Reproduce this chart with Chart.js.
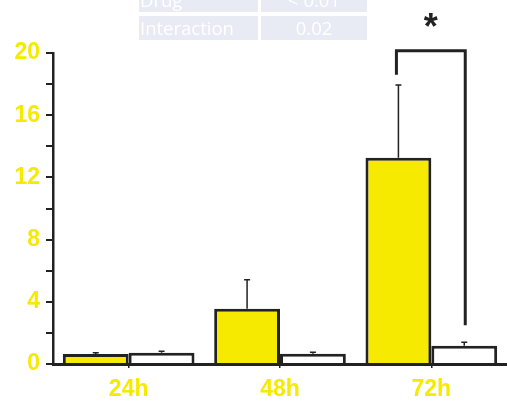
<!DOCTYPE html>
<html>
<head>
<meta charset="utf-8">
<script src="https://cdn.jsdelivr.net/npm/chart.js@4/dist/chart.umd.min.js"></script>
<style>
  html, body { margin: 0; padding: 0; background: #fff; }
  #wrap { position: relative; width: 507px; height: 406px; overflow: hidden; }
  #stats { position: absolute; left: 139px; top: -12px; border-collapse: separate; border-spacing: 3px 4px; margin: -4px -3px; }
  #stats td { background: #e8eaf4; color: #fff; font: 18.5px "Open Sans", sans-serif; height: 24px; padding: 0 1px; line-height: 24px; }
  #stats td.k { width: 117px; text-align: left; }
  #stats td.v { width: 104px; text-align: center; }
</style>
</head>
<body>
<div id="wrap">
  <canvas id="chart" width="507" height="406"></canvas>
  <table id="stats"></table>
</div>
<script>
// ---------------------------------------------------------------------------
// Data
// ---------------------------------------------------------------------------

const timepoints   = ["24h", "48h", "72h"];
const yellowMeans  = [0.64, 3.55, 13.27];
const yellowErrors = [0.08, 1.87, 4.67];
const whiteMeans   = [0.72, 0.66, 1.18];
const whiteErrors  = [0.1, 0.09, 0.22];
const yTicks       = [0, 4, 8, 12, 16, 20];

const statLabels = ["Drug", "Interaction"];
const statValues = ["< 0.01", "0.02"];

// significance bracket on 72h: top level, left leg end, right leg end
const sigIndex = 2;
const sigLevels = [20.15, 18.6, 2.5];

const YELLOW = "#f5ea00";
const INK = "#222222";
const LABEL_FONT = { family: "'Liberation Sans', Arial, sans-serif", size: 23, weight: "bold" };

// ---------------------------------------------------------------------------
// Stats table
// ---------------------------------------------------------------------------

document.getElementById("stats").innerHTML = statLabels
  .map((l, i) => `<tr><td class="k">${l}</td><td class="v">${statValues[i]}</td></tr>`)
  .join("");

// ---------------------------------------------------------------------------
// Plugins
// ---------------------------------------------------------------------------

const errorBars = {
  id: "errorBars",
  afterDatasetsDraw(chart) {
    const { ctx } = chart;
    const yScale = chart.scales.y;
    const errs = [yellowErrors, whiteErrors];
    ctx.save();
    ctx.strokeStyle = INK;
    ctx.lineWidth = 1.5;
    chart.data.datasets.forEach((ds, di) => {
      chart.getDatasetMeta(di).data.forEach((bar, i) => {
        const top = yScale.getPixelForValue(ds.data[i]);
        const end = yScale.getPixelForValue(ds.data[i] + errs[di][i]);
        ctx.beginPath();
        ctx.moveTo(bar.x, top);
        ctx.lineTo(bar.x, end);
        ctx.moveTo(bar.x - 3, end);
        ctx.lineTo(bar.x + 3, end);
        ctx.stroke();
      });
    });
    ctx.restore();
  },
};

const significance = {
  id: "significance",
  afterDatasetsDraw(chart) {
    const { ctx } = chart;
    const yScale = chart.scales.y;
    const x1 = chart.getDatasetMeta(0).data[sigIndex].x - 2;
    const x2 = chart.getDatasetMeta(1).data[sigIndex].x + 1;
    const yTop = yScale.getPixelForValue(sigLevels[0]);
    ctx.save();
    ctx.strokeStyle = INK;
    ctx.lineWidth = 3;
    ctx.beginPath();
    ctx.moveTo(x1, yScale.getPixelForValue(sigLevels[1]));
    ctx.lineTo(x1, yTop);
    ctx.lineTo(x2, yTop);
    ctx.lineTo(x2, yScale.getPixelForValue(sigLevels[2]));
    ctx.stroke();
    ctx.fillStyle = INK;
    ctx.font = "bold 36px 'Liberation Sans', Arial, sans-serif";
    ctx.textAlign = "center";
    ctx.textBaseline = "middle";
    ctx.fillText("*", (x1 + x2) / 2, yTop - 22);
    ctx.restore();
  },
};

// ---------------------------------------------------------------------------
// Chart
// ---------------------------------------------------------------------------

new Chart(document.getElementById("chart").getContext("2d"), {
  type: "bar",
  data: {
    labels: timepoints,
    datasets: [
      {
        data: yellowMeans,
        backgroundColor: YELLOW,
        borderColor: INK,
        borderWidth: 3,
        borderSkipped: "bottom",
      },
      {
        data: whiteMeans,
        backgroundColor: "#ffffff",
        borderColor: INK,
        borderWidth: 3,
        borderSkipped: "bottom",
      },
    ],
  },
  options: {
    responsive: false,
    animation: false,
    layout: { padding: { top: 53, right: 0, left: 0, bottom: 0 } },
    datasets: { bar: { categoryPercentage: 0.87, barPercentage: 1.0 } },
    plugins: { legend: { display: false }, tooltip: { enabled: false } },
    scales: {
      x: {
        afterFit: (s) => { s.height = 42; },
        grid: { offset: false, drawOnChartArea: false, color: INK, tickLength: 4, lineWidth: 1.5 },
        border: { color: INK, width: 3 },
        ticks: { color: YELLOW, padding: 8, font: LABEL_FONT },
      },
      y: {
        min: 0,
        max: 20,
        afterFit: (s) => { s.width = 53; },
        afterBuildTicks: (s) => {
          s.ticks = [];
          for (let v = 0; v <= 20; v += 2) s.ticks.push({ value: v });
        },
        grid: { drawOnChartArea: false, color: INK, tickLength: 7, lineWidth: 2 },
        border: { color: INK, width: 2.5 },
        ticks: {
          color: YELLOW,
          padding: 6,
          font: LABEL_FONT,
          callback: (v) => (yTicks.includes(v) ? String(v) : ""),
        },
      },
    },
  },
  plugins: [errorBars, significance],
});
</script>
</body>
</html>
